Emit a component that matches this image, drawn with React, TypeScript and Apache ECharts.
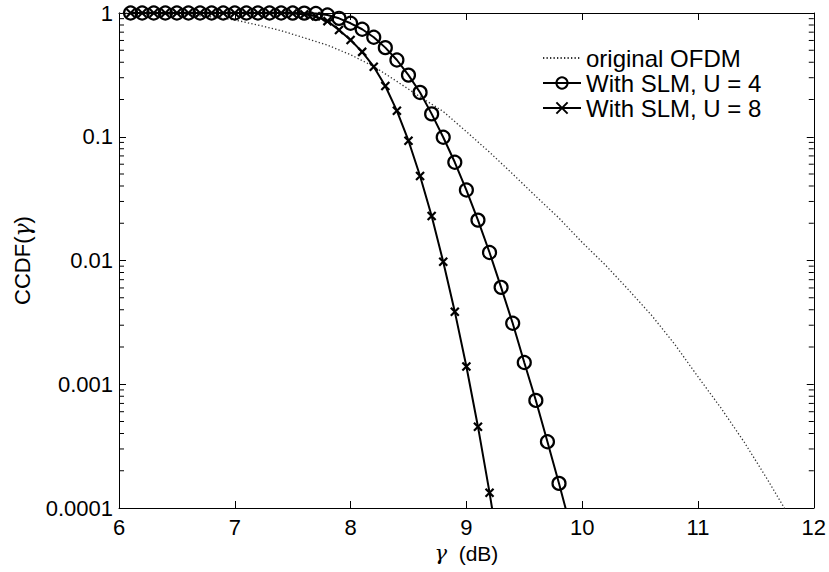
import React, { useEffect, useRef } from "react";
import * as echarts from "echarts";

const X_MIN = 6;
const X_MAX = 12;
const Y_MIN = 0.0001;
const Y_MAX = 1;

const gammaOFDM = [6.0, 6.2, 6.4, 6.6, 6.8, 7.0, 7.2, 7.4, 7.6, 7.8, 8.0, 8.2, 8.4, 8.6, 8.8, 9.0, 9.2, 9.4, 9.6, 9.8, 10.0, 10.2, 10.4, 10.6, 10.8, 11.0, 11.2, 11.4, 11.6, 11.8];
const ccdfOFDM = [0.998, 0.995, 0.985, 0.965, 0.93, 0.88, 0.8, 0.72, 0.63, 0.55, 0.46, 0.37, 0.28, 0.21, 0.16, 0.11, 0.075, 0.05, 0.033, 0.022, 0.014, 0.0092, 0.0058, 0.0036, 0.0021, 0.00115, 0.00064, 0.00034, 0.00017, 0.000082];

const gammaU4 = [6.1, 6.2, 6.3, 6.4, 6.5, 6.6, 6.7, 6.8, 6.9, 7.0, 7.1, 7.2, 7.3, 7.4, 7.5, 7.6, 7.7, 7.8, 7.9, 8.0, 8.1, 8.2, 8.3, 8.4, 8.5, 8.6, 8.7, 8.8, 8.9, 9.0, 9.1, 9.2, 9.3, 9.4, 9.5, 9.6, 9.7, 9.8, 9.9];
const ccdfU4 = [1, 1, 1, 1, 1, 1, 1, 1, 1, 1, 1, 1, 1, 1, 0.999, 0.997, 0.99, 0.963, 0.906, 0.826, 0.739, 0.637, 0.525, 0.417, 0.315, 0.228, 0.153, 0.099, 0.0622, 0.0371, 0.0212, 0.0116, 0.00607, 0.00311, 0.0015, 0.00074, 0.000343, 0.000158, 0.00007];

const gammaU8 = [6.1, 6.2, 6.3, 6.4, 6.5, 6.6, 6.7, 6.8, 6.9, 7.0, 7.1, 7.2, 7.3, 7.4, 7.5, 7.6, 7.7, 7.8, 7.9, 8.0, 8.1, 8.2, 8.3, 8.4, 8.5, 8.6, 8.7, 8.8, 8.9, 9.0, 9.1, 9.2, 9.3];
const ccdfU8 = [1, 1, 1, 1, 1, 1, 1, 1, 1, 1, 1, 1, 1, 0.998, 0.99, 0.975, 0.94, 0.86, 0.73, 0.605, 0.485, 0.368, 0.257, 0.162, 0.0929, 0.0482, 0.0229, 0.00977, 0.00386, 0.00139, 0.000454, 0.000133, 0.000035];

const seriesNames = ["original OFDM", "With SLM, U = 4", "With SLM, U = 8"];
const decades = [0.0001, 0.001, 0.01, 0.1];
const minorMultipliers = [2, 3, 4, 5, 6, 7, 8, 9];

const FONT = "'Liberation Sans', Arial, Helvetica, sans-serif";
const GREEK_FONT = "'DejaVu Serif', serif";
const CROSS = "path://M0 0L10 10M10 0L0 10";

function zip(xs: number[], ys: number[]) {
  return xs.map((x, i) => [x, ys[i]]);
}

export default function App() {
  const ref = useRef<HTMLDivElement>(null);
  useEffect(() => {
    document.body.style.margin = "0";
    if (!ref.current) return;
    const chart = echarts.init(ref.current, null, { renderer: "svg" });

    const axisCommon = {
      axisLine: { show: true, lineStyle: { color: "#000", width: 1 } },
      splitLine: { show: false },
    };
    const tickStyle = { show: true, inside: true, length: 7, lineStyle: { color: "#000", width: 1 } };
    const greek = { fontFamily: GREEK_FONT, fontStyle: "italic", fontSize: 21, color: "#000" };

    const minorData: number[][] = [];
    decades.forEach((d) => minorMultipliers.forEach((m) => minorData.push([X_MIN, d * m])));

    chart.setOption({
      animation: false,
      backgroundColor: "#fff",
      grid: { left: 119, right: 14, top: 13, bottom: 64, containLabel: false },
      legend: {
        data: seriesNames,
        orient: "vertical",
        left: 542,
        top: 46,
        itemWidth: 38,
        itemHeight: 14,
        itemGap: 1,
        padding: 0,
        textStyle: { fontSize: 24, fontFamily: FONT, color: "#000", lineHeight: 24 },
      },
      xAxis: [
        {
          type: "value",
          min: X_MIN,
          max: X_MAX,
          interval: 1,
          name: "{g|γ}  (dB)",
          nameLocation: "middle",
          nameGap: 32,
          nameTextStyle: { fontSize: 21, fontFamily: FONT, color: "#000", rich: { g: greek } },
          ...axisCommon,
          axisTick: tickStyle,
          axisLabel: { fontSize: 22, fontFamily: FONT, color: "#000", margin: 8 },
        },
        {
          type: "value",
          position: "top",
          min: X_MIN,
          max: X_MAX,
          interval: 1,
          ...axisCommon,
          axisTick: tickStyle,
          axisLabel: { show: false },
        },
      ],
      yAxis: [
        {
          type: "log",
          logBase: 10,
          min: Y_MIN,
          max: Y_MAX,
          name: "CCDF({g|γ})",
          nameLocation: "middle",
          nameGap: 86,
          nameTextStyle: { fontSize: 22, fontFamily: FONT, color: "#000", rich: { g: { ...greek, fontSize: 22 } } },
          ...axisCommon,
          axisTick: tickStyle,
          axisLabel: {
            fontSize: 22,
            fontFamily: FONT,
            color: "#000",
            margin: 6,
            formatter: (v: number) => String(Number(v.toPrecision(1))),
          },
        },
        {
          type: "log",
          logBase: 10,
          min: Y_MIN,
          max: Y_MAX,
          position: "right",
          ...axisCommon,
          axisTick: tickStyle,
          axisLabel: { show: false },
        },
      ],
      series: [
        {
          type: "line",
          name: seriesNames[0],
          data: zip(gammaOFDM, ccdfOFDM),
          symbol: "none",
          clip: true,
          lineStyle: { color: "#333", width: 1.3, type: [1.3, 2.2] },
          itemStyle: { color: "rgba(0,0,0,0)", borderWidth: 0 },
          z: 2,
        },
        {
          type: "line",
          name: seriesNames[1],
          data: zip(gammaU4, ccdfU4),
          symbol: "circle",
          symbolSize: 13,
          clip: true,
          lineStyle: { color: "#000", width: 2 },
          itemStyle: { color: "rgba(255,255,255,0)", borderColor: "#000", borderWidth: 2.2 },
          z: 3,
        },
        {
          type: "line",
          name: seriesNames[2],
          data: zip(gammaU8, ccdfU8),
          symbol: CROSS,
          symbolSize: 8,
          clip: true,
          lineStyle: { color: "#000", width: 2 },
          itemStyle: { color: "rgba(0,0,0,0)", borderColor: "#000", borderWidth: 2.2 },
          z: 3,
        },
        {
          type: "custom",
          name: "minor ticks",
          coordinateSystem: "cartesian2d",
          xAxisIndex: 0,
          yAxisIndex: 0,
          silent: true,
          clip: false,
          z: 10,
          encode: { x: 0, y: 1 },
          data: minorData,
          renderItem: (params: any, api: any) => {
            const v = api.value(1);
            const pL = api.coord([X_MIN, v]);
            const pR = api.coord([X_MAX, v]);
            return {
              type: "group",
              children: [
                { type: "rect", shape: { x: pL[0], y: pL[1] - 0.5, width: 5, height: 1 }, style: { fill: "#000" } },
                { type: "rect", shape: { x: pR[0] - 5, y: pR[1] - 0.5, width: 5, height: 1 }, style: { fill: "#000" } },
              ],
            };
          },
        },
      ],
    });

    return () => chart.dispose();
  }, []);
  return <div ref={ref} style={{ width: 829, height: 572 }} />;
}
